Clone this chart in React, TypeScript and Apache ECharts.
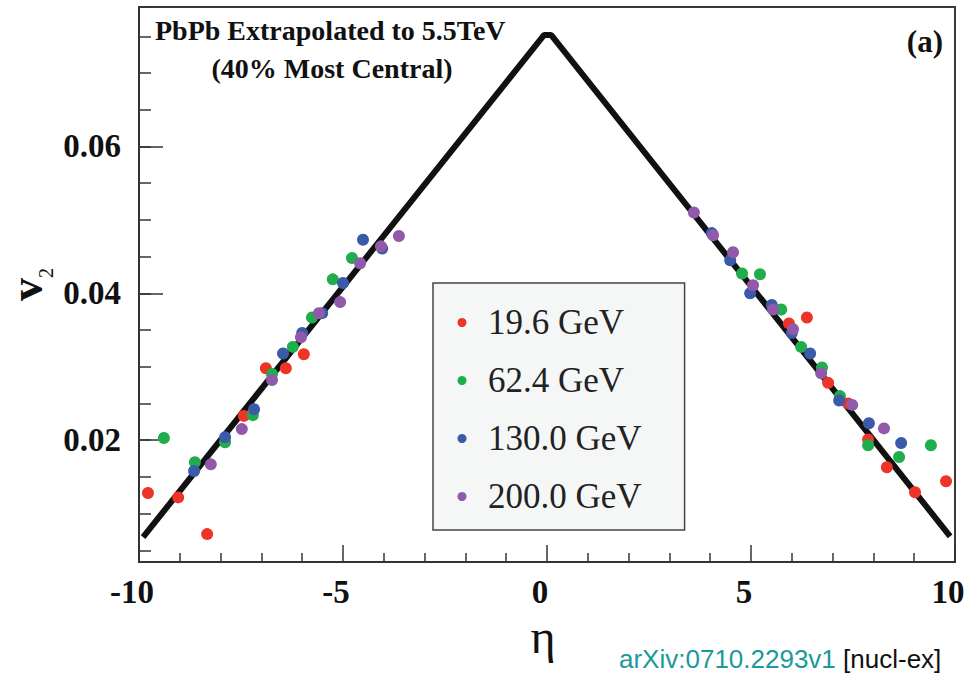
import React, { useEffect, useRef } from "react";
import * as echarts from "echarts";

// ---- data ----
const seriesNames = ["19.6 GeV", "62.4 GeV", "130.0 GeV", "200.0 GeV"];
const seriesColors = ["#ee3427", "#20ad4b", "#3b5aa8", "#9159a9"];

const red_eta = [-9.78, -9.04, -8.33, -7.43, -6.89, -6.4, -5.96, 5.93, 6.37, 6.89, 7.38, 7.87, 8.33, 9.02, 9.78];
const red_v2 = [0.0128, 0.0122, 0.0072, 0.0233, 0.0298, 0.0298, 0.0317, 0.0359, 0.0367, 0.0278, 0.025, 0.0201, 0.0163, 0.0129, 0.0144];

const green_eta = [-9.39, -8.63, -7.89, -7.21, -6.74, -6.23, -5.76, -5.25, -4.78, 4.78, 5.22, 5.74, 6.23, 6.74, 7.18, 7.87, 8.63, 9.41];
const green_v2 = [0.0203, 0.017, 0.0197, 0.0234, 0.029, 0.0327, 0.0367, 0.0419, 0.0448, 0.0427, 0.0426, 0.0378, 0.0327, 0.0299, 0.026, 0.0193, 0.0177, 0.0193];

const blue_eta = [-8.65, -7.89, -7.18, -6.47, -6.0, -5.51, -5.0, -4.51, -4.04, 4.04, 4.49, 4.98, 5.51, 6.0, 6.45, 7.16, 7.89, 8.68];
const blue_v2 = [0.0158, 0.0204, 0.0242, 0.0318, 0.0346, 0.0373, 0.0414, 0.0473, 0.0461, 0.0482, 0.0445, 0.04, 0.0384, 0.0346, 0.0318, 0.0254, 0.0223, 0.0196];

const purple_eta = [-8.24, -7.48, -6.74, -6.03, -5.59, -5.07, -4.58, -4.07, -3.63, 3.6, 4.07, 4.56, 5.05, 5.54, 6.03, 6.72, 7.48, 8.26];
const purple_v2 = [0.0167, 0.0215, 0.0282, 0.034, 0.0373, 0.0388, 0.0441, 0.0464, 0.0478, 0.051, 0.0479, 0.0456, 0.0411, 0.0378, 0.0351, 0.0291, 0.0248, 0.0216];

// extrapolation line
const line_eta = [-9.9, -0.07, 0.1, 9.88];
const line_v2 = [0.0068, 0.0752, 0.0752, 0.0069];

// axes
const xMin = -10;
const xMax = 10;
const yMin = 0.0034;
const yMax = 0.079;
const yMajorStart = 0.02; // first labelled tick
const yMajorStep = 0.02;
const yMinorStart = 0.005; // first minor tick
const yMinorStep = 0.005;

const titleLine1 = "PbPb Extrapolated to 5.5TeV";
const titleLine2 = "(40% Most Central)";
const panelLabel = "(a)";

const zip = (a: number[], b: number[]) => a.map((v, i) => [v, b[i]]);

const SERIF = '"Liberation Serif", "Times New Roman", serif';
const SANS = '"Liberation Sans", Arial, sans-serif';
const AX = "#333";

// plot frame (pixels)
const G_LEFT = 139;
const G_RIGHT = 10;
const G_TOP = 7;
const G_BOTTOM = 112;
const H = 674;

export default function App() {
  const ref = useRef<HTMLDivElement>(null);
  useEffect(() => {
    if (!ref.current) return;
    const chart = echarts.init(ref.current, undefined, { renderer: "svg" });
    const pts = [
      zip(red_eta, red_v2),
      zip(green_eta, green_v2),
      zip(blue_eta, blue_v2),
      zip(purple_eta, purple_v2),
    ];
    const plotH = H - G_TOP - G_BOTTOM;
    const yPix = (v: number) => G_TOP + plotH * (1 - (v - yMin) / (yMax - yMin));
    const minorBottom = H - yPix(yMinorStart);
    const majorBottom = H - yPix(yMajorStart);
    const baseGrid = { left: G_LEFT, right: G_RIGHT, top: G_TOP, containLabel: false, outerBoundsMode: "none" };
    const hiddenX = (gi: number) => ({ type: "value", gridIndex: gi, min: xMin, max: xMax, show: false });
    const tickStyle = { color: AX, width: 1.5 };
    chart.setOption({
      animation: false,
      backgroundColor: "#ffffff",
      grid: [
        { ...baseGrid, bottom: G_BOTTOM, show: true, borderColor: "#3a3a3a", borderWidth: 2, backgroundColor: "transparent" },
        { ...baseGrid, bottom: minorBottom },
        { ...baseGrid, bottom: majorBottom },
      ],
      legend: {
        data: seriesNames,
        orient: "vertical",
        left: 433,
        top: 283,
        padding: [22, 43, 16, 24.5],
        itemGap: 23,
        itemWidth: 9,
        itemHeight: 9,
        icon: "circle",
        backgroundColor: "#f5f7f7",
        borderColor: "#444",
        borderWidth: 1.5,
        textStyle: { fontSize: 35, fontFamily: SERIF, color: "#222", padding: [0, 0, 0, 16.5] },
        selectedMode: false,
      },
      xAxis: [
        {
          type: "value",
          gridIndex: 0,
          min: xMin,
          max: xMax,
          interval: 5,
          axisLine: { show: true, onZero: false, lineStyle: { color: AX, width: 2 } },
          axisTick: { show: true, inside: true, length: 17, lineStyle: tickStyle },
          minorTick: { show: true, splitNumber: 5, length: 9, lineStyle: tickStyle },
          splitLine: { show: false },
          minorSplitLine: { show: false },
          axisLabel: {
            fontSize: 33,
            fontWeight: "bold",
            fontFamily: SERIF,
            color: "#111",
            margin: 13,
            padding: [0, 14, 0, 0],
          },
          name: "η",
          nameLocation: "middle",
          nameGap: 34,
          nameTextStyle: { fontSize: 48, fontFamily: SERIF, color: "#111", padding: [0, 8, 0, 0] },
        },
        hiddenX(1),
        hiddenX(2),
      ],
      yAxis: [
        {
          type: "value",
          gridIndex: 0,
          min: yMin,
          max: yMax,
          axisLine: { show: true, onZero: false, lineStyle: { color: AX, width: 2 } },
          axisTick: { show: false },
          axisLabel: { show: false },
          splitLine: { show: false },
          name: "{v|v}{s|2}",
          nameLocation: "middle",
          nameGap: 83,
          nameRotate: 90,
          nameTextStyle: {
            rich: {
              v: { fontSize: 46, fontWeight: "bold", fontFamily: SERIF, color: "#111", lineHeight: 46, padding: [0, 0, 14, 0] },
              s: { fontSize: 20, fontFamily: SERIF, color: "#111", lineHeight: 20, verticalAlign: "bottom" },
            },
          },
        },
        {
          // minor ticks every 0.005
          type: "value",
          gridIndex: 1,
          min: yMinorStart,
          max: yMax,
          interval: yMinorStep,
          axisLine: { show: false, onZero: false },
          axisTick: { show: true, inside: true, length: 12, lineStyle: tickStyle },
          axisLabel: { show: false },
          splitLine: { show: false },
        },
        {
          // major ticks + labels every 0.02
          type: "value",
          gridIndex: 2,
          min: yMajorStart,
          max: yMax,
          interval: yMajorStep,
          axisLine: { show: false, onZero: false },
          axisTick: { show: true, inside: true, length: 24, lineStyle: tickStyle },
          axisLabel: {
            showMaxLabel: false,
            formatter: (v: number) => {
              const k = (v - yMajorStart) / yMajorStep;
              return Math.abs(k - Math.round(k)) < 1e-6 ? v.toFixed(2) : "";
            },
            fontSize: 33,
            fontWeight: "bold",
            fontFamily: SERIF,
            color: "#111",
            margin: 18,
          },
          splitLine: { show: false },
        },
      ],
      series: [
        {
          name: "extrapolation",
          type: "line",
          xAxisIndex: 0,
          yAxisIndex: 0,
          data: zip(line_eta, line_v2),
          symbol: "none",
          lineStyle: { color: "#111", width: 6 },
          z: 2,
          silent: true,
        },
        ...seriesNames.map((n, i) => ({
          name: n,
          type: "scatter",
          xAxisIndex: 0,
          yAxisIndex: 0,
          data: pts[i],
          symbol: "circle",
          symbolSize: 12,
          itemStyle: { color: seriesColors[i], opacity: 1 },
          z: 3,
        })),
      ],
      graphic: [
        {
          type: "text",
          x: 155,
          y: 30,
          style: { text: titleLine1, font: `bold 28px ${SERIF}`, fill: "#111", align: "left", verticalAlign: "middle" },
        },
        {
          type: "text",
          x: 332,
          y: 68.5,
          style: { text: titleLine2, font: `bold 28px ${SERIF}`, fill: "#111", align: "center", verticalAlign: "middle" },
        },
        {
          type: "text",
          x: 943,
          y: 41,
          style: { text: panelLabel, font: `bold 31px ${SERIF}`, fill: "#111", align: "right", verticalAlign: "middle" },
        },
        {
          type: "text",
          x: 619,
          y: 659,
          style: {
            text: "{a|arXiv:0710.2293v1} {b|[nucl-ex]}",
            align: "left",
            verticalAlign: "middle",
            rich: {
              a: { fontSize: 26, fontFamily: SANS, fill: "#1a9a9a", color: "#1a9a9a" },
              b: { fontSize: 26, fontFamily: SANS, fill: "#111", color: "#111" },
            },
            font: `26px ${SANS}`,
          },
        },
      ],
    });
    return () => chart.dispose();
  }, []);
  return <div ref={ref} style={{ position: "fixed", left: 0, top: 0, width: 965, height: 674 }} />;
}
